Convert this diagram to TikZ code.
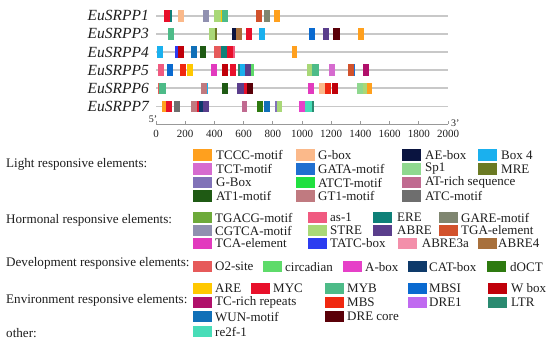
\documentclass[tikz,border=0pt]{standalone}
\usepackage{fontspec}
\setmainfont{Liberation Serif}
% colours
\definecolor{cTCCC}{HTML}{FFA01E}
\definecolor{cGboxL}{HTML}{FBB98A}
\definecolor{cAE}{HTML}{0A1440}
\definecolor{cBoxF}{HTML}{1AB0EE}
\definecolor{cTCT}{HTML}{D66BCF}
\definecolor{cGATA}{HTML}{1F6FD0}
\definecolor{cSpA}{HTML}{8FD88F}
\definecolor{cMRE}{HTML}{6B7A23}
\definecolor{cGBoxU}{HTML}{8172B8}
\definecolor{cATCT}{HTML}{20E040}
\definecolor{cATrich}{HTML}{C06A90}
\definecolor{cATA}{HTML}{1F5A14}
\definecolor{cGTA}{HTML}{C07A80}
\definecolor{cATC}{HTML}{6E6E6E}
\definecolor{cTGACG}{HTML}{6DAA3A}
\definecolor{cas}{HTML}{F05A80}
\definecolor{cERE}{HTML}{0E8078}
\definecolor{cGARE}{HTML}{7F8670}
\definecolor{cCGTCA}{HTML}{9090B0}
\definecolor{cSTRE}{HTML}{A9D877}
\definecolor{cABRE}{HTML}{5A3E8C}
\definecolor{cTGA}{HTML}{D2522C}
\definecolor{cTCA}{HTML}{E23ABE}
\definecolor{cTATC}{HTML}{2C3CF0}
\definecolor{cABREa}{HTML}{F38FAA}
\definecolor{cABREf}{HTML}{A8703C}
\definecolor{cOsite}{HTML}{E65A5A}
\definecolor{ccirc}{HTML}{5EDB6A}
\definecolor{cAbox}{HTML}{E640C8}
\definecolor{cCAT}{HTML}{0E3A6A}
\definecolor{cdOCT}{HTML}{2E7A10}
\definecolor{cARE}{HTML}{FFC800}
\definecolor{cMYC}{HTML}{E8102A}
\definecolor{cMYB}{HTML}{4DBB88}
\definecolor{cMBSI}{HTML}{0A6AD0}
\definecolor{cWbox}{HTML}{C0000A}
\definecolor{cTCrich}{HTML}{B0106A}
\definecolor{cMBS}{HTML}{F02810}
\definecolor{cDREa}{HTML}{C06AF0}
\definecolor{cLTR}{HTML}{2A8A70}
\definecolor{cWUN}{HTML}{1070B8}
\definecolor{cDREc}{HTML}{5A0008}
\definecolor{cref}{HTML}{48DDB8}
\definecolor{ctrack}{HTML}{C8C8C8}
\definecolor{ctext}{HTML}{1E1E1E}
\newcommand\mygenebox[4]{\fill[#4] (#1,{#3-5.8}) rectangle (#2,{#3+5.8});}
\newcommand\mylegitem[5]{\fill[#4] (#1,{#3-5.6}) rectangle ({#1+19},{#3+5.6});
  \node[legtext] at (#2,#3) {#5};}
\begin{document}
\begin{tikzpicture}[x=1pt,y=-1pt,
  genelabel/.style={anchor=east,inner sep=0pt,font=\fontsize{15.5}{16}\selectfont\itshape,text=ctext},
  legtext/.style={anchor=west,inner sep=0pt,font=\fontsize{13}{14}\selectfont,text=ctext},
  header/.style={anchor=west,inner sep=0pt,font=\fontsize{13.1}{14}\selectfont,text=ctext},
  track/.style={draw=ctrack,line width=1.7pt},
  ticklabel/.style={anchor=north,inner sep=0pt,font=\fontsize{11}{12}\selectfont,text=ctext}]
\useasboundingbox (0,0) rectangle (550,346);
\fill[white] (0,0) rectangle (550,346);

% gene labels and tracks
\foreach \n/\name/\yy in {g1/EuSRPP1/15.8,g3/EuSRPP3/33.9,g4/EuSRPP4/52,g5/EuSRPP5/70.2,g6/EuSRPP6/88.3,g7/EuSRPP7/106.5}{
  \node[genelabel] (\n) at (149,\yy) {\name};
  \coordinate (\n s) at (156,\yy);
  \coordinate (\n e) at (448,\yy);
  \draw[track] (\n s) -- (\n e);
}

% EuSRPP1
\mygenebox{164}{170}{15.8}{cMYC}\mygenebox{170}{172}{15.8}{cERE}\mygenebox{178}{184}{15.8}{cGboxL}
\mygenebox{203.3}{209.3}{15.8}{cCGTCA}\mygenebox{214.3}{221}{15.8}{cSTRE}\mygenebox{221}{222.3}{15.8}{cARE}
\mygenebox{222.3}{227.7}{15.8}{cMYB}\mygenebox{256}{262.3}{15.8}{cTGA}\mygenebox{264}{270}{15.8}{cGARE}
\mygenebox{274}{280}{15.8}{cTCCC}
% EuSRPP3
\mygenebox{168.3}{174.3}{33.9}{cMYB}\mygenebox{209.3}{215.3}{33.9}{cSTRE}\mygenebox{215.3}{216.7}{33.9}{cMRE}
\mygenebox{232.3}{236}{33.9}{cAE}\mygenebox{236}{242.3}{33.9}{cABREf}\mygenebox{245.7}{251.7}{33.9}{cMYC}
\mygenebox{259.3}{265.3}{33.9}{cBoxF}\mygenebox{309.3}{315.3}{33.9}{cMBSI}\mygenebox{323}{329}{33.9}{cABRE}
\mygenebox{333.3}{340}{33.9}{cDREc}\mygenebox{357.7}{363.7}{33.9}{cTCCC}
% EuSRPP4
\mygenebox{156.7}{162.7}{52}{cBoxF}\mygenebox{175}{178.3}{52}{cTATC}\mygenebox{178.3}{184.3}{52}{cWbox}
\mygenebox{190.7}{196.7}{52}{cWUN}\mygenebox{200}{206}{52}{cATA}\mygenebox{214.3}{220.7}{52}{cOsite}
\mygenebox{220.7}{226.7}{52}{cERE}\mygenebox{226.7}{232.7}{52}{cMYC}\mygenebox{232.7}{235.3}{52}{cas}
\mygenebox{291.7}{297.3}{52}{cTCCC}
% EuSRPP5
\mygenebox{158.3}{164}{70.2}{cas}\mygenebox{166.7}{172.7}{70.2}{cMBSI}\mygenebox{180}{185.7}{70.2}{cMBS}
\mygenebox{187.3}{193.3}{70.2}{cARE}\mygenebox{211}{216.7}{70.2}{cTCA}\mygenebox{222.3}{228.3}{70.2}{cWbox}
\mygenebox{230}{235.7}{70.2}{cMYC}\mygenebox{238.3}{240}{70.2}{cLTR}\mygenebox{240}{245}{70.2}{cBoxF}
\mygenebox{245}{251}{70.2}{cABRE}\mygenebox{251}{254}{70.2}{ccirc}\mygenebox{306.7}{311.7}{70.2}{cSTRE}
\mygenebox{311.7}{319.3}{70.2}{cMYB}\mygenebox{329.3}{335}{70.2}{cTCT}\mygenebox{348.3}{354.3}{70.2}{cTGA}
\mygenebox{354.3}{355.3}{70.2}{cGATA}\mygenebox{363.3}{369.3}{70.2}{cTCrich}
% EuSRPP6
\mygenebox{157.5}{158.5}{88.3}{cOsite}\mygenebox{158.5}{165.7}{88.3}{cMYB}\mygenebox{201}{207.3}{88.3}{cGTA}
\mygenebox{207.3}{208.3}{88.3}{cBoxF}\mygenebox{222.3}{228.3}{88.3}{cATA}\mygenebox{237.3}{244}{88.3}{cABRE}
\mygenebox{244}{247.3}{88.3}{cMYC}\mygenebox{247.3}{253.3}{88.3}{cDREc}\mygenebox{308.3}{314.3}{88.3}{cTCA}
\mygenebox{319.3}{325}{88.3}{cGboxL}\mygenebox{325}{331}{88.3}{cMBS}\mygenebox{332.3}{338.3}{88.3}{cWbox}
\mygenebox{356.7}{363.3}{88.3}{cSpA}\mygenebox{363.3}{366.7}{88.3}{cSTRE}\mygenebox{366.7}{372.3}{88.3}{cTCCC}
% EuSRPP7
\mygenebox{161.7}{166}{106.5}{cTCCC}\mygenebox{166}{172}{106.5}{cMYC}\mygenebox{174.3}{180}{106.5}{cATC}
\mygenebox{190.7}{197.3}{106.5}{cGTA}\mygenebox{197.3}{199.3}{106.5}{cMYC}\mygenebox{199.3}{203.3}{106.5}{cCAT}
\mygenebox{203.3}{209}{106.5}{cABRE}\mygenebox{241.7}{247.3}{106.5}{cATrich}\mygenebox{256.7}{262.7}{106.5}{cdOCT}
\mygenebox{264}{270}{106.5}{cWUN}\mygenebox{275}{276.7}{106.5}{cGBoxU}\mygenebox{276.7}{282.3}{106.5}{cSTRE}
\mygenebox{299.3}{305}{106.5}{cAbox}\mygenebox{305}{312.3}{106.5}{cref}\mygenebox{312.3}{314}{106.5}{cLTR}

% axis
\coordinate (ax0) at (156,124);
\coordinate (ax1) at (448,124);
\draw[draw=gray!80,line width=0.8pt] (ax0) -- (ax1);
\foreach \k in {0,...,10}{
  \pgfmathsetmacro\xx{156+\k*29.2}
  \pgfmathtruncatemacro\lab{\k*200}
  \draw[draw=gray!80,line width=0.8pt] (\xx,124) -- (\xx,121);
  \node[ticklabel] (t\k) at (\xx,129.5) {\lab};
}
\node[anchor=south,inner sep=0pt,font=\fontsize{10}{11}\selectfont,text=ctext] (five) at (153,123) {5'};
\node[anchor=south west,inner sep=0pt,font=\fontsize{10}{11}\selectfont,text=ctext] (three) at (451,127) {3'};

% headers
\node[header] (hl) at (6,164) {Light responsive elements:};
\node[header] (hh) at (6,220) {Hormonal responsive elements:};
\node[header] (hd) at (6,263.3) {Development responsive elements:};
\node[header] (he) at (6,300) {Environment responsive elements:};
\node[header] (ho) at (6,333.3) {other:};

% light legend
\mylegitem{193}{216}{155}{cTCCC}{TCCC-motif}\mylegitem{296}{318}{155}{cGboxL}{G-box}
\mylegitem{402}{425}{155}{cAE}{AE-box}\mylegitem{478}{501}{155}{cBoxF}{Box 4}
\mylegitem{193}{216}{169}{cTCT}{TCT-motif}\mylegitem{296}{318}{169}{cGATA}{GATA-motif}
\mylegitem{402}{425}{169}{cSpA}{Sp1}\mylegitem{478}{501}{169}{cMRE}{MRE}
\mylegitem{193}{216}{182.7}{cGBoxU}{G-Box}\mylegitem{296}{318}{182.7}{cATCT}{ATCT-motif}
\mylegitem{402}{425}{182.7}{cATrich}{AT-rich sequence}
\mylegitem{193}{216}{196}{cATA}{AT1-motif}\mylegitem{296}{318}{196}{cGTA}{GT1-motif}
\mylegitem{402}{425}{196}{cATC}{ATC-motif}
% hormonal legend
\mylegitem{193}{215}{217.7}{cTGACG}{TGACG-motif}\mylegitem{308}{330}{217.7}{cas}{as-1}
\mylegitem{373}{397}{217.7}{cERE}{ERE}\mylegitem{439}{461}{217.7}{cGARE}{GARE-motif}
\mylegitem{193}{215}{230.5}{cCGTCA}{CGTCA-motif}\mylegitem{308}{330}{230.5}{cSTRE}{STRE}
\mylegitem{373}{397}{230.5}{cABRE}{ABRE}\mylegitem{439}{461}{230.5}{cTGA}{TGA-element}
\mylegitem{193}{215}{243.3}{cTCA}{TCA-element}\mylegitem{308}{330}{243.3}{cTATC}{TATC-box}
\mylegitem{398}{421.7}{243.3}{cABREa}{ABRE3a}\mylegitem{478}{498}{243.3}{cABREf}{ABRE4}
% development legend
\mylegitem{193}{215}{266.7}{cOsite}{O2-site}\mylegitem{263}{285}{266.7}{ccirc}{circadian}
\mylegitem{343}{365}{266.7}{cAbox}{A-box}\mylegitem{408}{429}{266.7}{cCAT}{CAT-box}
\mylegitem{487}{510}{266.7}{cdOCT}{dOCT}
% environment legend
\mylegitem{193}{215}{288.3}{cARE}{ARE}\mylegitem{251}{273}{288.3}{cMYC}{MYC}
\mylegitem{325}{347}{288.3}{cMYB}{MYB}\mylegitem{408}{429}{288.3}{cMBSI}{MBSI}
\mylegitem{488}{511}{288.3}{cWbox}{W box}
\mylegitem{193}{215}{302.7}{cTCrich}{TC-rich repeats}\mylegitem{325}{347}{302.7}{cMBS}{MBS}
\mylegitem{408}{429}{302.7}{cDREa}{DRE1}\mylegitem{488}{511}{302.7}{cLTR}{LTR}
\mylegitem{193}{215}{316.7}{cWUN}{WUN-motif}\mylegitem{325}{347}{316.7}{cDREc}{DRE core}
% other
\mylegitem{193}{215}{331.5}{cref}{re2f-1}
\end{tikzpicture}
\end{document}
